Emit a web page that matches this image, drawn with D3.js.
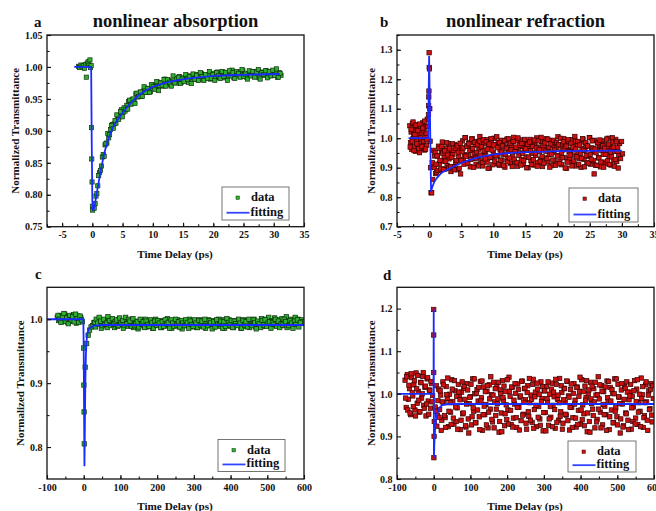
<!DOCTYPE html>
<html>
<head>
<meta charset="utf-8">
<script src="https://cdn.jsdelivr.net/npm/d3@7"></script>
<style>
  body { margin: 0; background: #fff; }
  text { font-family: "Liberation Serif", "Times New Roman", serif; font-weight: bold; fill: #111; }
</style>
</head>
<body>
<svg id="fig" width="656" height="511"></svg>
<script>
// ---- panel a: nonlinear absorption (green data, blue fit) ----
const aTime = [-2.3,-2.1,-1.9,-1.7,-1.5,-1.3,-1.15,-1.0,-0.85,-0.7,-0.55,-0.4,-0.3,-0.2,
  -0.15,-0.1,-0.05,0,0.05,0.3,0.45,
  0.6,0.9,1.2,1.5,1.8,2.1,2.4,2.7,3.0,3.3,3.6,3.9,4.2,4.5,4.8,5.1,5.4,5.7,6.0,6.3,6.6,6.9,7.2,7.5,7.8,8.1,8.4,8.7,9.0,9.3,9.6,9.9,
  10.2,10.5,10.8,11.1,11.4,11.7,12.0,12.3,12.6,12.9,13.2,13.5,13.8,14.1,14.4,14.7,15.0,15.3,15.6,15.9,16.2,16.5,16.8,17.1,17.4,17.7,
  18.0,18.3,18.6,18.9,19.2,19.5,19.8,20.1,20.4,20.7,21.0,21.3,21.6,21.9,22.2,22.5,22.8,23.1,23.4,23.7,24.0,24.3,24.6,24.9,25.2,25.5,
  25.8,26.1,26.4,26.7,27.0,27.3,27.6,27.9,28.2,28.5,28.8,29.1,29.4,29.7,30.0,30.3,30.6,30.9,31.2];
const aValue = [1.001,0.999,1.003,1.000,1.002,0.998,1.004,0.984,1.006,1.008,1.003,1.011,0.999,1.002,
  0.905,0.856,0.820,0.782,0.776,0.779,0.786,
  0.798,0.814,0.835,0.845,0.863,0.878,0.881,0.889,0.902,0.910,
  0.911,0.912,0.923,0.922,0.933,0.929,0.931,0.940,0.946,0.942,
  0.949,0.946,0.958,0.953,0.959,0.954,0.962,0.967,0.960,0.965,
  0.961,0.972,0.970,0.967,0.976,0.971,0.975,0.970,0.981,0.974,
  0.979,0.972,0.977,0.982,0.975,0.980,0.985,0.976,0.983,0.980,
  0.985,0.976,0.986,0.983,0.981,0.988,0.980,0.985,0.990,0.980,
  0.986,0.984,0.988,0.981,0.990,0.987,0.984,0.992,0.983,0.987,
  0.992,0.983,0.989,0.986,0.990,0.995,0.983,0.989,0.986,0.992,
  0.985,0.994,0.988,0.984,0.990,0.993,0.987,0.986,0.993,0.990,
  0.983,0.992,0.991,0.987,0.994,0.985,0.990,0.992,0.988,0.993,
  0.984,0.991,0.987];
const aTime2 = [0.75,1.05,1.35,1.65,1.95,2.25,2.55,2.85,3.15,3.45,3.75,4.05,4.35,4.65,4.95,5.25,5.55,5.85,6.15,6.45,
  6.75,7.05,7.35,7.65,7.95,8.25,8.55,8.85,9.15,9.45,9.75,10.05,10.35,10.65,10.95,11.25,11.55,11.85,12.15,12.45,
  12.75,13.05,13.35,13.65,13.95,14.25,14.55,14.85,15.15,15.45,15.75,16.05,16.35,16.65,16.95,17.25,17.55,17.85,18.15,18.45,
  18.75,19.05,19.35,19.65,19.95,20.25,20.55,20.85,21.15,21.45,21.75,22.05,22.35,22.65,22.95,23.25,23.55,23.85,24.15,24.45,
  24.75,25.05,25.35,25.65,25.95,26.25,26.55,26.85,27.15,27.45,27.75,28.05,28.35,28.65,28.95,29.25,29.55,29.85,30.15,30.45,
  30.75,31.05];
const aValue2 = [0.802,0.830,0.838,0.859,0.860,0.880,0.896,0.894,0.908,0.904,
  0.916,0.925,0.918,0.930,0.922,0.936,0.934,0.934,0.948,0.942,
  0.950,0.943,0.959,0.954,0.961,0.954,0.969,0.960,0.966,0.960,
  0.972,0.969,0.965,0.977,0.963,0.975,0.971,0.980,0.970,0.980,
  0.976,0.970,0.986,0.975,0.981,0.984,0.974,0.981,0.977,0.988,
  0.981,0.985,0.974,0.989,0.981,0.987,0.979,0.991,0.985,0.979,
  0.988,0.982,0.993,0.982,0.988,0.979,0.991,0.986,0.982,0.993,
  0.985,0.991,0.979,0.994,0.986,0.991,0.982,0.993,0.990,0.984,
  0.996,0.985,0.989,0.981,0.994,0.986,0.993,0.984,0.992,0.996,
  0.981,0.991,0.988,0.994,0.983,0.993,0.986,0.995,0.987,0.997,
  0.984,0.990];
const aFitTime = [-3,-0.2,-0.1,0,0.1,0.3,0.6,0.9,1.2,1.6,2.0,2.5,3.0,3.5,4,5,6,7,8,9,10,12,14,16,18,20,23,26,31];
const aFitValue = [1.0,1.0,0.88,0.79,0.775,0.779,0.795,0.812,0.828,0.848,0.866,0.883,0.897,0.907,0.915,0.928,0.940,0.950,0.958,0.964,0.969,0.975,0.979,0.982,0.984,0.986,0.987,0.988,0.989];

// ---- panel b: nonlinear refraction (red data, blue fit) ----
const bTime = [-3.0,-2.9,-2.8,-2.7,-2.6,-2.5,-2.4,-2.3,-2.2,-2.1,-2.0,-1.9,-1.8,-1.7,-1.6,-1.5,-1.4,-1.3,-1.2,-1.1,-1.0,-0.9,-0.8,-0.7,-0.6,-0.5,-0.4,-0.3,
  -0.15,-0.1,-0.08,-0.05,-0.03,0,0.02,0.05,0.1,0.15,0.22,0.3,
  0.4,0.55,0.7,0.85,1,1.15,1.3,1.45,1.6,1.75,
  1.9,2.05,2.2,2.35,2.5,2.65,2.8,2.95,3.1,3.25,
  3.4,3.55,3.7,3.85,4,4.15,4.3,4.45,4.6,4.75,
  4.9,5.05,5.2,5.35,5.5,5.65,5.8,5.95,6.1,6.25,
  6.4,6.55,6.7,6.85,7,7.15,7.3,7.45,7.6,7.75,
  7.9,8.05,8.2,8.35,8.5,8.65,8.8,8.95,9.1,9.25,
  9.4,9.55,9.7,9.85,10,10.15,10.3,10.45,10.6,10.75,
  10.9,11.05,11.2,11.35,11.5,11.65,11.8,11.95,12.1,12.25,
  12.4,12.55,12.7,12.85,13,13.15,13.3,13.45,13.6,13.75,
  13.9,14.05,14.2,14.35,14.5,14.65,14.8,14.95,15.1,15.25,
  15.4,15.55,15.7,15.85,16,16.15,16.3,16.45,16.6,16.75,
  16.9,17.05,17.2,17.35,17.5,17.65,17.8,17.95,18.1,18.25,
  18.4,18.55,18.7,18.85,19,19.15,19.3,19.45,19.6,19.75,
  19.9,20.05,20.2,20.35,20.5,20.65,20.8,20.95,21.1,21.25,
  21.4,21.55,21.7,21.85,22,22.15,22.3,22.45,22.6,22.75,
  22.9,23.05,23.2,23.35,23.5,23.65,23.8,23.95,24.1,24.25,
  24.4,24.55,24.7,24.85,25,25.15,25.3,25.45,25.6,25.75,
  25.9,26.05,26.2,26.35,26.5,26.65,26.8,26.95,27.1,27.25,
  27.4,27.55,27.7,27.85,28,28.15,28.3,28.45,28.6,28.75,
  28.9,29.05,29.2,29.35,29.5,29.65,29.8,29.95,30.1];
const bValue = [1.042,0.985,1.021,0.962,1.050,0.998,1.013,0.971,1.036,0.956,1.027,0.990,1.046,0.975,1.008,0.951,1.031,0.994,1.018,0.967,1.052,0.982,1.025,0.960,1.039,1.003,0.976,1.064,
  1.04,1.08,1.11,1.14,1.16,1.29,1.24,1.235,1.10,0.99,0.90,0.815,
  0.815,0.860,0.905,0.940,0.880,0.884,0.940,0.973,0.913,0.890,
  0.954,0.987,0.922,0.938,0.896,0.965,0.908,0.982,0.930,0.951,
  0.887,0.959,0.944,0.904,0.979,0.918,0.970,0.893,0.936,0.963,
  0.879,0.966,0.991,0.928,0.945,1.002,0.916,0.974,0.941,0.985,
  0.903,0.959,0.998,0.932,0.949,0.977,0.912,0.989,0.937,0.963,
  1.006,0.923,0.970,0.906,0.983,0.943,0.954,0.995,0.919,0.973,
  0.899,0.965,0.988,0.934,0.951,1.000,0.914,0.978,0.940,0.986,
  0.908,0.960,0.993,0.926,0.946,0.981,0.902,0.969,0.997,0.931,
  0.956,0.984,0.915,0.975,0.938,1.003,0.921,0.962,0.991,0.905,
  0.967,0.950,0.994,0.927,0.972,0.911,0.958,0.987,0.936,0.979,
  0.900,0.964,0.996,0.924,0.948,0.982,0.909,0.976,0.942,1.001,
  0.917,0.970,0.955,0.929,0.989,0.904,0.961,0.983,0.933,0.998,
  0.920,0.966,0.946,0.992,0.907,0.974,0.953,0.925,0.985,0.913,
  0.968,1.005,0.941,0.922,0.977,0.910,0.960,0.999,0.935,0.980,
  0.898,0.963,0.988,0.930,0.957,0.995,0.918,0.971,0.943,0.990,
  0.906,0.978,0.952,0.932,0.986,0.901,0.965,0.997,0.928,0.959,
  0.981,0.916,0.973,0.939,1.002,0.912,0.967,0.954,0.924,0.993,
  0.908,0.962,0.984,0.934,0.976,0.903,0.969,0.991,0.945,0.919,
  0.979,0.914,0.958,1.000,0.937,0.972,0.909,0.964,0.987,0.926,
  0.955,0.996,0.921,0.970,0.942,0.982,0.931,0.989,0.947];
const bTime2 = [-2.95,-2.8,-2.65,-2.5,-2.35,-2.2,-2.05,-1.9,-1.75,-1.6,-1.45,-1.3,-1.15,-1.0,-0.85,-0.7,-0.55,-0.45,-0.35,-0.25,
  0.48,0.63,0.78,0.93,1.08,1.23,1.38,1.53,1.68,1.83,
  1.98,2.13,2.28,2.43,2.58,2.73,2.88,3.03,3.18,3.33,
  3.48,3.63,3.78,3.93,4.08,4.23,4.38,4.53,4.68,4.83,
  4.98,5.13,5.28,5.43,5.58,5.73,5.88,6.03,6.18,6.33,
  6.48,6.63,6.78,6.93,7.08,7.23,7.38,7.53,7.68,7.83,
  7.98,8.13,8.28,8.43,8.58,8.73,8.88,9.03,9.18,9.33,
  9.48,9.63,9.78,9.93,10.08,10.23,10.38,10.53,10.68,10.83,
  10.98,11.13,11.28,11.43,11.58,11.73,11.88,12.03,12.18,12.33,
  12.48,12.63,12.78,12.93,13.08,13.23,13.38,13.53,13.68,13.83,
  13.98,14.13,14.28,14.43,14.58,14.73,14.88,15.03,15.18,15.33,
  15.48,15.63,15.78,15.93,16.08,16.23,16.38,16.53,16.68,16.83,
  16.98,17.13,17.28,17.43,17.58,17.73,17.88,18.03,18.18,18.33,
  18.48,18.63,18.78,18.93,19.08,19.23,19.38,19.53,19.68,19.83,
  19.98,20.13,20.28,20.43,20.58,20.73,20.88,21.03,21.18,21.33,
  21.48,21.63,21.78,21.93,22.08,22.23,22.38,22.53,22.68,22.83,
  22.98,23.13,23.28,23.43,23.58,23.73,23.88,24.03,24.18,24.33,
  24.48,24.63,24.78,24.93,25.08,25.23,25.38,25.53,25.68,25.83,
  25.98,26.13,26.28,26.43,26.58,26.73,26.88,27.03,27.18,27.33,
  27.48,27.63,27.78,27.93,28.08,28.23,28.38,28.53,28.68,28.83,
  28.98,29.13,29.28,29.43];
const bValue2 = [0.970,1.030,0.990,1.055,0.958,1.012,1.044,0.981,1.026,0.965,1.048,1.001,0.972,1.034,0.989,1.058,0.963,1.017,0.995,1.040,
  0.917,0.959,0.901,0.952,0.912,0.940,0.891,0.966,0.925,0.896,
  0.972,0.949,0.894,0.957,0.922,0.985,0.943,0.899,0.964,0.904,
  0.935,0.981,0.959,0.893,0.966,0.924,0.974,0.952,0.898,0.983,
  0.924,0.954,0.967,0.912,1.002,0.939,0.973,0.916,0.981,0.959,
  0.928,0.997,0.965,0.901,0.986,0.932,0.952,0.978,0.906,0.990,
  0.943,0.971,0.918,0.995,0.957,0.930,0.988,0.963,0.898,0.980,
  0.935,0.999,0.960,0.910,0.977,0.922,0.941,1.005,0.968,0.913,
  0.985,0.925,0.953,0.974,0.907,0.992,0.946,0.966,0.920,0.998,
  0.933,0.983,0.961,0.904,0.989,0.929,0.955,0.970,0.917,1.001,
  0.942,0.976,0.909,0.982,0.948,0.924,0.996,0.964,0.900,0.979,
  0.936,0.987,0.958,0.911,0.972,0.927,0.994,0.950,0.967,0.905,
  0.991,0.962,0.921,1.003,0.938,0.975,0.915,0.984,0.956,0.931,
  0.997,0.969,0.902,0.981,0.946,0.926,0.993,0.960,0.908,0.986,
  0.940,0.978,0.914,1.000,0.951,0.934,0.988,0.965,0.899,0.973,
  0.919,0.995,0.954,0.943,0.983,0.906,0.970,0.923,1.006,0.963,
  0.937,0.989,0.912,0.977,0.949,0.932,0.998,0.959,0.903,0.985,
  0.941,0.974,0.916,1.002,0.945,0.928,0.991,0.966,0.879,0.963,
  0.951,0.908,0.985,0.933,0.994,0.919,0.959,0.974,0.902,0.966,
  0.945,0.997,0.923,0.980,0.911,0.953,0.937,1.002,0.969,0.905,
  0.928,0.988,0.955,0.899];
const bFitTime = [-3.2,-0.15,0.0,0.3,0.5,0.8,1.2,1.6,2.0,3,4,5,6,7,8,9,10,12,14,17,20,25,30];
const bFitValue = [1.0,1.0,1.28,0.818,0.835,0.852,0.865,0.875,0.884,0.895,0.906,0.916,0.924,0.931,0.937,0.941,0.945,0.949,0.952,0.954,0.956,0.957,0.958];

// ---- panel c: long-range absorption ----
const cTime = [-72,-68,-64,-60,-56,-52,-48,-44,-40,-36,-32,-28,-24,-20,-16,-12,-8,-4,
  0,0.5,1,1.5,
  4,8,12,16,20,24,28,32,36,40,44,48,52,56,60,64,68,72,76,80,84,88,92,96,100,104,108,112,116,120,124,128,132,136,140,144,148,
  152,156,160,164,168,172,176,180,184,188,192,196,200,204,208,212,216,220,224,228,232,236,240,244,248,252,256,260,264,268,272,
  276,280,284,288,292,296,300,304,308,312,316,320,324,328,332,336,340,344,348,352,356,360,364,368,372,376,380,384,388,392,396,
  400,404,408,412,416,420,424,428,432,436,440,444,448,452,456,460,464,468,472,476,480,484,488,492,496,500,504,508,512,516,520,
  524,528,532,536,540,544,548,552,556,560,564,568,572,576,580,584,588,592,596];
const cValue = [1.003,0.998,1.006,0.996,1.002,1.008,0.999,0.995,1.004,1.001,0.997,1.007,1.000,0.994,1.005,0.998,1.003,0.996,
  0.955,0.897,0.855,0.805,
  0.925,0.962,0.975,0.983,0.988,0.990,
  0.995,0.988,0.999,0.992,0.997,0.986,0.994,0.998,0.990,0.987,
  0.996,1.000,0.991,0.993,0.987,0.997,0.989,1.000,0.992,0.995,
  0.986,0.996,0.994,0.989,0.999,0.991,0.998,0.987,0.993,0.997,
  0.985,0.995,0.999,0.990,0.992,1.000,0.988,0.996,0.991,0.998,
  0.986,0.994,1.000,0.990,0.993,0.997,0.987,0.998,0.991,0.995,
  1.001,0.989,0.996,0.986,0.997,0.992,0.993,0.999,0.988,0.996,
  0.985,0.995,0.998,0.990,0.993,1.000,0.988,0.997,0.991,0.998,
  0.987,0.994,0.999,0.989,0.992,0.997,0.986,0.995,0.999,0.990,
  0.994,0.998,0.988,0.996,0.991,1.000,0.989,0.994,0.999,0.986,
  0.995,0.993,0.999,0.989,0.996,0.987,0.994,0.998,0.991,0.997,
  0.986,0.995,0.999,0.989,0.992,0.997,0.987,0.996,0.992,1.000,
  0.988,0.996,0.993,0.990,1.001,0.989,0.997,1.000,0.993,1.003,
  0.991,0.998,0.995,1.002,0.990,0.999,0.996,0.992,1.001,0.990,
  0.998,1.004,0.994,0.992,1.000,0.990,0.997,1.003,0.994,1.000,
  0.995,0.999,0.996];
const cTime2 = [-70,-66,-62,-58,-54,-50,-46,-42,-38,-34,-30,-26,-22,-18,-14,-10,-6,
  30,34,38,42,46,50,54,58,62,66,70,74,78,82,86,90,94,98,102,106,110,114,118,122,126,130,134,138,142,146,150,
  154,158,162,166,170,174,178,182,186,190,194,198,202,206,210,214,218,222,226,230,234,238,242,246,250,254,258,262,266,270,
  274,278,282,286,290,294,298,302,306,310,314,318,322,326,330,334,338,342,346,350,354,358,362,366,370,374,378,382,386,390,
  394,398,402,406,410,414,418,422,426,430,434,438,442,446,450,454,458,462,466,470,474,478,482,486,490,494,498,502,506,510,
  514,518,522,526,530,534,538,542,546,550,554,558,562,566,570,574,578,582,586,590];
const cValue2 = [1.006,1.000,0.995,1.004,1.009,0.997,1.002,0.993,1.006,0.999,1.004,0.996,1.008,1.001,0.995,1.005,0.999,
  0.995,1.000,0.994,1.003,0.997,0.990,1.000,0.992,0.994,1.004,
  0.998,0.990,1.001,0.992,0.996,0.999,0.990,1.002,0.995,0.998,
  0.991,1.003,0.993,1.000,0.997,0.989,1.001,0.990,0.993,0.996,
  0.988,1.000,0.992,0.996,0.987,0.997,0.992,0.989,0.999,0.995,
  0.986,0.997,0.991,0.998,0.994,0.987,0.996,0.989,0.999,0.993,
  0.995,0.986,0.999,0.994,0.989,1.000,0.991,0.996,0.988,0.998,
  0.994,0.990,0.999,0.995,0.986,0.997,0.992,0.989,0.999,0.994,
  0.987,0.998,0.991,0.997,0.988,1.000,0.993,0.990,0.998,0.995,
  0.985,0.996,0.988,0.999,0.993,0.992,0.997,0.986,0.996,0.989,
  1.001,0.995,0.991,0.998,0.987,0.997,0.993,0.990,1.000,0.994,
  0.986,0.998,0.991,0.996,0.988,1.000,0.992,0.990,0.999,0.995,
  0.985,0.997,0.993,0.987,0.998,0.991,0.999,0.989,0.994,0.996,
  0.986,0.995,0.992,1.000,0.989,0.997,0.987,0.993,0.991,1.000,
  0.996,0.987,0.990,0.998,0.994,0.986,0.997,0.992,0.999,0.988,
  0.995];
const cFitTime = [-100,-1,0,1,2,3,4,5,6,8,10,14,20,30,50,600];
const cFitValue = [1.0,1.0,0.95,0.85,0.77,0.82,0.88,0.92,0.945,0.968,0.978,0.985,0.988,0.990,0.991,0.991];

// ---- panel d: long-range refraction ----
const dTime = [-78,-75,-72,-69,-66,-63,-60,-57,-54,-51,-48,-45,-42,-39,-36,-33,-30,-27,-24,-21,-18,-15,-12,-9,-6,-3,
  0,0,0,0.5,1,1.5,
  4,7,10,13,16,19,22,25,28,31,
  34,37,40,43,46,49,52,55,58,61,
  64,67,70,73,76,79,82,85,88,91,
  94,97,100,103,106,109,112,115,118,121,
  124,127,130,133,136,139,142,145,148,151,
  154,157,160,163,166,169,172,175,178,181,
  184,187,190,193,196,199,202,205,208,211,
  214,217,220,223,226,229,232,235,238,241,
  244,247,250,253,256,259,262,265,268,271,
  274,277,280,283,286,289,292,295,298,301,
  304,307,310,313,316,319,322,325,328,331,
  334,337,340,343,346,349,352,355,358,361,
  364,367,370,373,376,379,382,385,388,391,
  394,397,400,403,406,409,412,415,418,421,
  424,427,430,433,436,439,442,445,448,451,
  454,457,460,463,466,469,472,475,478,481,
  484,487,490,493,496,499,502,505,508,511,
  514,517,520,523,526,529,532,535,538,541,
  544,547,550,553,556,559,562,565,568,571,
  574,577,580,583,586,589,592,595,598];
const dValue = [1.032,0.968,1.045,0.987,1.012,0.951,1.038,0.995,1.021,0.962,1.049,0.978,1.006,0.957,1.027,0.990,1.041,0.973,1.015,0.948,1.035,0.983,1.009,0.966,1.024,0.996,
  1.198,1.138,1.05,0.85,0.90,0.935,
  0.969,1.019,0.950,1.011,0.963,0.997,0.938,1.028,0.979,0.944,
  1.017,0.989,0.923,0.999,0.957,1.033,0.982,0.929,1.007,0.935,
  0.967,1.022,0.995,0.916,1.004,0.953,1.013,0.987,0.922,1.024,
  0.941,0.977,0.993,0.927,1.035,0.959,1.000,0.932,1.010,0.983,
  0.946,1.029,0.991,0.914,1.016,0.951,0.975,1.006,0.920,1.021,
  0.964,0.998,0.934,1.027,0.981,0.949,1.018,0.988,0.910,1.009,
  0.955,1.031,0.985,0.925,1.005,0.939,0.962,1.039,0.994,0.928,
  1.015,0.943,0.976,1.001,0.921,1.023,0.968,0.992,0.937,1.030,
  0.952,1.012,0.986,0.917,1.019,0.947,0.979,0.997,0.933,1.034,
  0.963,1.004,0.923,1.011,0.970,0.941,1.028,0.989,0.913,1.007,
  0.956,1.017,0.982,0.926,0.999,0.945,1.025,0.973,0.993,0.919,
  1.022,0.987,0.938,1.036,0.958,1.003,0.931,1.013,0.980,0.950,
  1.029,0.995,0.915,1.010,0.968,0.944,1.024,0.985,0.922,1.016,
  0.961,1.006,0.929,1.033,0.974,0.953,1.018,0.991,0.911,1.000,
  0.935,1.027,0.977,0.964,1.012,0.920,0.997,0.940,1.040,0.988,
  0.957,1.019,0.927,1.005,0.971,0.951,1.030,0.983,0.916,1.015,
  0.962,1.001,0.932,1.035,0.967,0.946,1.022,0.992,0.908,1.009,
  0.976,0.925,1.017,0.955,1.028,0.938,0.986,1.004,0.917,0.994,
  0.969,1.031,0.943,1.011,0.928,0.979,0.959,1.037,0.998,0.921,
  0.949,1.021,0.981,0.914,1.007,0.965,1.024,0.934,0.989];
const dTime2 = [-76.5,-73.5,-70.5,-67.5,-64.5,-61.5,-58.5,-55.5,-52.5,-49.5,-46.5,-43.5,-40.5,-37.5,-34.5,-31.5,-28.5,-25.5,-22.5,-19.5,-16.5,-13.5,-10.5,-7.5,-4.5,
  5.5,8.5,11.5,14.5,17.5,20.5,23.5,26.5,29.5,32.5,
  35.5,38.5,41.5,44.5,47.5,50.5,53.5,56.5,59.5,62.5,
  65.5,68.5,71.5,74.5,77.5,80.5,83.5,86.5,89.5,92.5,
  95.5,98.5,101.5,104.5,107.5,110.5,113.5,116.5,119.5,122.5,
  125.5,128.5,131.5,134.5,137.5,140.5,143.5,146.5,149.5,152.5,
  155.5,158.5,161.5,164.5,167.5,170.5,173.5,176.5,179.5,182.5,
  185.5,188.5,191.5,194.5,197.5,200.5,203.5,206.5,209.5,212.5,
  215.5,218.5,221.5,224.5,227.5,230.5,233.5,236.5,239.5,242.5,
  245.5,248.5,251.5,254.5,257.5,260.5,263.5,266.5,269.5,272.5,
  275.5,278.5,281.5,284.5,287.5,290.5,293.5,296.5,299.5,302.5,
  305.5,308.5,311.5,314.5,317.5,320.5,323.5,326.5,329.5,332.5,
  335.5,338.5,341.5,344.5,347.5,350.5,353.5,356.5,359.5,362.5,
  365.5,368.5,371.5,374.5,377.5,380.5,383.5,386.5,389.5,392.5,
  395.5,398.5,401.5,404.5,407.5,410.5,413.5,416.5,419.5,422.5,
  425.5,428.5,431.5,434.5,437.5,440.5,443.5,446.5,449.5,452.5,
  455.5,458.5,461.5,464.5,467.5,470.5,473.5,476.5,479.5,482.5,
  485.5,488.5,491.5,494.5,497.5,500.5,503.5,506.5,509.5,512.5,
  515.5,518.5,521.5,524.5,527.5,530.5,533.5,536.5,539.5,542.5,
  545.5,548.5,551.5,554.5,557.5,560.5,563.5,566.5,569.5,572.5,
  575.5,578.5,581.5,584.5,587.5,590.5,593.5,596.5];
const dValue2 = [0.990,1.040,0.962,1.020,0.955,1.047,1.003,0.970,1.031,0.948,1.012,1.043,0.985,0.958,1.026,1.000,1.050,0.966,1.018,0.976,1.038,0.952,1.008,1.029,0.981,
  0.959,0.924,0.984,0.945,1.007,0.914,0.981,1.021,0.949,0.921,
  0.998,1.037,0.959,0.979,0.928,1.011,0.943,1.031,0.969,0.994,
  0.917,1.004,0.986,0.938,1.028,0.955,1.017,0.925,0.976,1.009,
  0.908,0.992,1.022,0.946,0.967,1.035,0.932,1.001,0.962,1.015,
  0.916,0.983,1.030,0.951,0.971,1.005,0.927,1.019,0.957,0.988,
  1.040,0.940,0.997,0.920,1.012,0.964,0.977,1.027,0.935,1.000,
  0.911,0.991,1.018,0.953,0.974,1.033,0.929,1.006,0.961,1.016,
  0.922,0.985,1.024,0.944,0.968,1.010,0.915,0.995,1.029,0.950,
  0.980,1.013,0.931,1.003,0.958,1.036,0.938,0.987,1.022,0.919,
  0.993,0.973,1.025,0.945,0.999,0.926,0.982,1.017,0.956,1.007,
  0.913,0.989,1.028,0.941,0.970,1.011,0.923,1.004,0.963,1.034,
  0.933,0.997,0.979,0.947,1.019,0.917,0.986,1.012,0.952,1.030,
  0.937,0.992,0.968,1.023,0.921,1.001,0.976,0.943,1.015,0.928,
  0.994,1.039,0.962,0.939,1.005,0.925,0.985,1.031,0.955,1.009,
  0.910,0.988,1.018,0.949,0.981,1.027,0.934,0.998,0.964,1.021,
  0.920,1.006,0.975,0.951,1.016,0.914,0.991,1.029,0.946,0.983,
  1.010,0.932,1.000,0.959,1.035,0.927,0.993,0.977,0.941,1.024,
  0.922,0.987,1.013,0.953,1.004,0.916,0.995,1.022,0.967,0.935,
  1.007,0.929,0.982,1.033,0.957,0.999,0.923,0.989,1.017,0.944,
  0.979,1.028,0.938,0.997,0.963,1.011,0.950,1.019];
const dFitTime = [-100,-0.5,0,0.6,2,4,6,9,13,18,25,40,600];
const dFitValue = [1.0,1.0,1.2,0.85,0.89,0.92,0.94,0.952,0.963,0.970,0.974,0.976,0.976];

// ---- ticks and labels ----
const xTicksShort = [-5,0,5,10,15,20,25,30,35];
const xTicksLong = [-100,0,100,200,300,400,500,600];
const yTicksA = [0.75,0.80,0.85,0.90,0.95,1.00,1.05];
const yTicksB = [0.7,0.8,0.9,1.0,1.1,1.2,1.3];
const yTicksC = [0.8,0.9,1.0];
const yTicksD = [0.8,0.9,1.0,1.1,1.2];
const titles = {a: 'nonlinear absorption', b: 'nonlinear refraction'};
const legendLabels = ['data', 'fitting'];

const blue = '#1a2bff';
const green = {fill: '#2fb02f', edge: '#0e300e'};
const red = {fill: '#cc1111', edge: '#360000'};

const svg = d3.select('#fig');
svg.append('rect').attr('width', 656).attr('height', 511).attr('fill', '#fff');

const panels = [
  {id: 'a', left: 47, right: 304, top: 35, bottom: 226.7, xDomain: [-7.5, 35], yDomain: [0.75, 1.05],
   time: aTime.concat(aTime2), value: aValue.concat(aValue2), fitTime: aFitTime, fitValue: aFitValue, color: green, size: 4.2,
   xTicks: xTicksShort, xMinor: d3.range(-7.5, 35, 2.5), yTicks: yTicksA, yMinor: d3.range(0.775, 1.05, 0.025), yFmt: '.2f',
   yLabelX: 18.5, xLabelY: 258, letter: [34, 26.5], legend: [222, 187, 67, 33]},
  {id: 'b', left: 397, right: 654, top: 35, bottom: 226.7, xDomain: [-5, 35], yDomain: [0.7, 1.35],
   time: bTime.concat(bTime2), value: bValue.concat(bValue2), fitTime: bFitTime, fitValue: bFitValue, color: red, size: 4.4,
   xTicks: xTicksShort, xMinor: d3.range(-2.5, 35, 2.5), yTicks: yTicksB, yMinor: d3.range(0.75, 1.35, 0.05), yFmt: '.1f',
   yLabelX: 375, xLabelY: 258, letter: [380, 27], legend: [569, 188, 69, 34]},
  {id: 'c', left: 47, right: 304, top: 287.3, bottom: 479, xDomain: [-100, 600], yDomain: [0.75, 1.05],
   time: cTime.concat(cTime2), value: cValue.concat(cValue2), fitTime: cFitTime, fitValue: cFitValue, color: green, size: 4.4,
   xTicks: xTicksLong, xMinor: d3.range(-50, 600, 50), yTicks: yTicksC, yMinor: [0.85, 0.95], yFmt: '.1f',
   yLabelX: 23.5, xLabelY: 510, letter: [35, 279], legend: [218, 439.5, 67, 32]},
  {id: 'd', left: 397, right: 654, top: 287.3, bottom: 479, xDomain: [-100, 600], yDomain: [0.8, 1.25],
   time: dTime.concat(dTime2), value: dValue.concat(dValue2), fitTime: dFitTime, fitValue: dFitValue, color: red, size: 4.4,
   xTicks: xTicksLong, xMinor: d3.range(-50, 600, 50), yTicks: yTicksD, yMinor: [0.85, 0.95, 1.05, 1.15], yFmt: '.1f',
   yLabelX: 375, xLabelY: 510, letter: [383, 280], legend: [568, 441, 68, 31]}
];

function drawPanel(p) {
  const g = svg.append('g');
  const x = d3.scaleLinear().domain(p.xDomain).range([p.left, p.right]);
  const y = d3.scaleLinear().domain(p.yDomain).range([p.bottom, p.top]);

  g.append('clipPath').attr('id', 'clip-' + p.id)
    .append('rect')
    .attr('x', p.left).attr('y', p.top)
    .attr('width', p.right - p.left).attr('height', p.bottom - p.top);

  const plot = g.append('g').attr('clip-path', `url(#clip-${p.id})`);

  // data squares
  const pts = p.time.map((t, i) => ({t: t, v: p.value[i]}));
  plot.selectAll('rect.pt').data(pts).join('rect')
    .attr('class', 'pt')
    .attr('x', d => x(d.t) - p.size / 2)
    .attr('y', d => y(d.v) - p.size / 2)
    .attr('width', p.size).attr('height', p.size)
    .attr('fill', p.color.fill)
    .attr('stroke', p.color.edge)
    .attr('stroke-width', 0.7);

  // fitting curve on top
  const fit = p.fitTime.map((t, i) => [t, p.fitValue[i]]);
  plot.append('path').datum(fit)
    .attr('d', d3.line().x(d => x(d[0])).y(d => y(d[1])))
    .attr('fill', 'none')
    .attr('stroke', blue)
    .attr('stroke-width', 1.8);

  // axes, ticks pointing inward
  const xAx = g.append('g').attr('transform', `translate(0,${p.bottom})`)
    .call(d3.axisBottom(x).tickValues(p.xTicks).tickFormat(d => d).tickSize(-4).tickSizeOuter(0).tickPadding(4.5));
  g.append('g').attr('transform', `translate(0,${p.bottom})`)
    .call(d3.axisBottom(x).tickValues(p.xMinor).tickFormat(() => '').tickSize(-2.5).tickSizeOuter(0));
  const yAx = g.append('g').attr('transform', `translate(${p.left},0)`)
    .call(d3.axisLeft(y).tickValues(p.yTicks).tickFormat(d3.format(p.yFmt)).tickSize(-4).tickSizeOuter(0).tickPadding(4.5));
  g.append('g').attr('transform', `translate(${p.left},0)`)
    .call(d3.axisLeft(y).tickValues(p.yMinor).tickFormat(() => '').tickSize(-2.5).tickSizeOuter(0));
  g.selectAll('.domain').remove();
  g.selectAll('.tick line').attr('stroke', '#111').attr('stroke-width', 1.1);
  xAx.selectAll('text').attr('font-size', 10);
  yAx.selectAll('text').attr('font-size', 10);

  // frame
  g.append('rect')
    .attr('x', p.left).attr('y', p.top)
    .attr('width', p.right - p.left).attr('height', p.bottom - p.top)
    .attr('fill', 'none').attr('stroke', '#111').attr('stroke-width', 1.3);

  // axis titles
  g.append('text')
    .attr('transform', `translate(${p.yLabelX},${(p.top + p.bottom) / 2}) rotate(-90)`)
    .attr('text-anchor', 'middle')
    .attr('font-size', 11)
    .text('Normalized Transmittance');
  g.append('text')
    .attr('x', (p.left + p.right) / 2 - 0.5).attr('y', p.xLabelY)
    .attr('text-anchor', 'middle')
    .attr('font-size', 11.2)
    .text('Time Delay (ps)');

  // panel letter and title
  g.append('text')
    .attr('x', p.letter[0]).attr('y', p.letter[1])
    .attr('font-size', 15)
    .text(p.id);
  if (titles[p.id]) {
    g.append('text')
      .attr('x', (p.left + p.right) / 2).attr('y', 26.5)
      .attr('text-anchor', 'middle')
      .attr('font-size', 18.5)
      .text(titles[p.id]);
  }

  // legend
  const [bx, by, bw, bh] = p.legend;
  const lg = g.append('g');
  lg.append('rect')
    .attr('x', bx).attr('y', by).attr('width', bw).attr('height', bh)
    .attr('fill', '#fff').attr('stroke', '#666').attr('stroke-width', 0.9);
  lg.append('rect')
    .attr('x', bx + 14).attr('y', by + 9).attr('width', 3.4).attr('height', 3.4)
    .attr('fill', p.color.fill).attr('stroke', p.color.edge).attr('stroke-width', 0.5);
  lg.append('text')
    .attr('x', bx + 29).attr('y', by + 14)
    .attr('font-size', 12.5)
    .text(legendLabels[0]);
  lg.append('line')
    .attr('x1', bx + 4.5).attr('x2', bx + 27.5)
    .attr('y1', by + bh * 0.78).attr('y2', by + bh * 0.78)
    .attr('stroke', '#3344ff').attr('stroke-width', 1.8);
  lg.append('text')
    .attr('x', bx + 28.5).attr('y', by + bh * 0.87)
    .attr('font-size', 12.5)
    .text(legendLabels[1]);
}

panels.forEach(drawPanel);
</script>
</body>
</html>
